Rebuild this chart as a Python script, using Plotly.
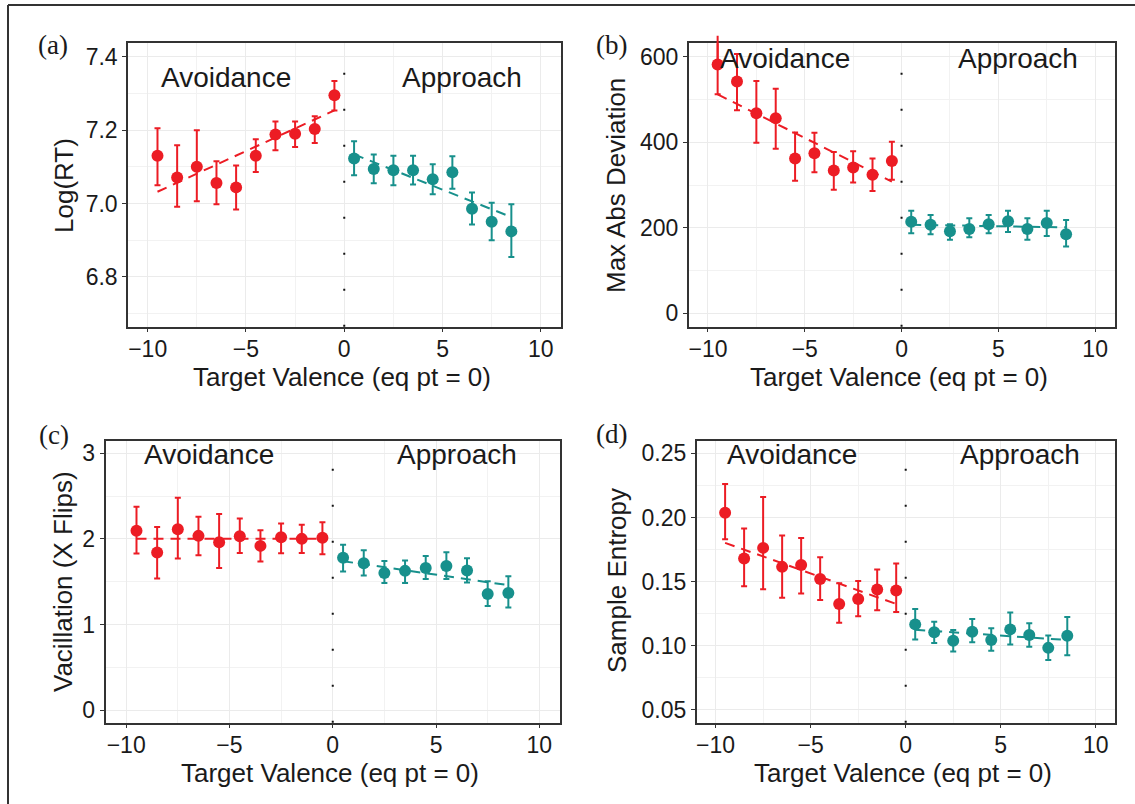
import plotly.graph_objects as go

# ---------------- data ----------------
x_avoid = [-9.5, -8.5, -7.5, -6.5, -5.5, -4.5, -3.5, -2.5, -1.5, -0.5]
x_appr = [0.5, 1.5, 2.5, 3.5, 4.5, 5.5, 6.5, 7.5, 8.5]
fit_x_avoid = [-9.5, -0.5]
fit_x_appr = [0.5, 8.5]

# (a) Log(RT)
a_avoid_mean = [7.130, 7.071, 7.100, 7.056, 7.044, 7.130, 7.188, 7.190, 7.203, 7.295]
a_avoid_lo = [7.050, 6.991, 7.006, 6.998, 6.984, 7.086, 7.145, 7.154, 7.165, 7.254]
a_avoid_hi = [7.205, 7.159, 7.200, 7.115, 7.104, 7.175, 7.224, 7.224, 7.238, 7.334]
a_appr_mean = [7.123, 7.094, 7.091, 7.091, 7.066, 7.085, 6.986, 6.950, 6.924]
a_appr_lo = [7.077, 7.055, 7.050, 7.052, 7.025, 7.040, 6.943, 6.900, 6.854]
a_appr_hi = [7.170, 7.134, 7.130, 7.130, 7.107, 7.129, 7.030, 7.002, 6.998]
a_fit_avoid = [7.032, 7.254]
a_fit_appr = [7.134, 6.963]

# (b) Max Abs Deviation
b_avoid_mean = [582, 542, 468, 456, 362, 374, 334, 341, 324, 356]
b_avoid_lo = [512, 475, 399, 385, 310, 330, 289, 306, 286, 312]
b_avoid_hi = [649, 606, 543, 525, 423, 422, 377, 379, 362, 401]
b_appr_mean = [214, 207, 192, 197, 208, 215, 197, 211, 185]
b_appr_lo = [187, 185, 172, 178, 187, 190, 172, 181, 156]
b_appr_hi = [240, 230, 208, 222, 230, 240, 222, 240, 218]
b_fit_avoid = [512, 308]
b_fit_appr = [207, 201]

# (c) Vacillation (X Flips)
c_avoid_mean = [2.094, 1.840, 2.113, 2.035, 1.960, 2.030, 1.918, 2.020, 2.000, 2.012]
c_avoid_lo = [1.829, 1.537, 1.770, 1.810, 1.660, 1.836, 1.735, 1.832, 1.836, 1.820]
c_avoid_hi = [2.374, 2.140, 2.480, 2.257, 2.290, 2.238, 2.100, 2.180, 2.164, 2.195]
c_appr_mean = [1.778, 1.716, 1.602, 1.626, 1.660, 1.684, 1.630, 1.357, 1.368]
c_appr_lo = [1.619, 1.571, 1.485, 1.485, 1.532, 1.532, 1.490, 1.216, 1.197]
c_appr_hi = [1.930, 1.868, 1.740, 1.747, 1.800, 1.844, 1.774, 1.505, 1.564]
c_fit_avoid = [2.0, 2.0]
c_fit_appr = [1.739, 1.459]

# (d) Sample Entropy
d_avoid_mean = [0.2036, 0.1680, 0.1763, 0.1615, 0.1629, 0.1520, 0.1325, 0.1364, 0.1439, 0.1431]
d_avoid_lo = [0.1830, 0.1464, 0.1440, 0.1375, 0.1408, 0.1356, 0.1180, 0.1231, 0.1278, 0.1263]
d_avoid_hi = [0.2260, 0.1914, 0.2160, 0.1860, 0.1840, 0.1690, 0.1487, 0.1504, 0.1595, 0.1642]
d_appr_mean = [0.1167, 0.1105, 0.1040, 0.1110, 0.1046, 0.1128, 0.1084, 0.0984, 0.1079]
d_appr_lo = [0.1049, 0.1022, 0.0956, 0.1027, 0.0961, 0.1010, 0.0992, 0.0890, 0.0927]
d_appr_hi = [0.1286, 0.1188, 0.1123, 0.1208, 0.1137, 0.1260, 0.1175, 0.1081, 0.1224]
d_fit_avoid = [0.1802, 0.1326]
d_fit_appr = [0.1125, 0.1045]

x_ticks = [-10, -5, 0, 5, 10]
x_title = "Target Valence (eq pt = 0)"
panel_labels = ["(a)", "(b)", "(c)", "(d)"]
y_titles = ["Log(RT)", "Max Abs Deviation", "Vacillation (X Flips)", "Sample Entropy"]
y_ticks = [[6.8, 7.0, 7.2, 7.4], [0, 200, 400, 600], [0, 1, 2, 3], [0.05, 0.10, 0.15, 0.20, 0.25]]
y_ticktext = [["6.8", "7.0", "7.2", "7.4"], ["0", "200", "400", "600"], ["0", "1", "2", "3"],
              ["0.05", "0.10", "0.15", "0.20", "0.25"]]
y_minor = [0.1, 100, 0.5, 0.025]
y_ranges = [[6.664, 7.437], [-31.3, 631.3], [-0.148, 3.147], [0.0401, 0.2598]]
label_y = [7.345, 596, 2.98, 0.2487]
group_labels = ["Avoidance", "Approach"]
group_label_x = [-6, 6]

# ---------------- layout geometry (pixels) ----------------
W, H = 1135, 804
def px(x):
    return x / W
def py(y):
    return 1 - y / H

panels = [
    dict(x0=128.0, x1=560.5, y0=43.3, y1=326.7),
    dict(x0=688.6, x1=1114.5, y0=43.3, y1=326.7),
    dict(x0=105.5, x1=560.0, y0=440.7, y1=722.7),
    dict(x0=696.6, x1=1114.8, y0=440.7, y1=722.7),
]
panel_label_pos = [(53, 45), (611, 45), (54, 435), (611, 434)]
ytitle_pos = [(64, 186), (616, 186), (63, 582), (617, 581)]
xtitle_pos = [(342, 377), (899, 377), (330, 773), (903, 773)]

RED = "#EC1C24"
TEAL = "#17908C"
SANS = "Liberation Sans, Arial, Helvetica, sans-serif"
SERIF = "Liberation Serif, Times New Roman, serif"

series = [
    (a_avoid_mean, a_avoid_lo, a_avoid_hi, a_appr_mean, a_appr_lo, a_appr_hi, a_fit_avoid, a_fit_appr),
    (b_avoid_mean, b_avoid_lo, b_avoid_hi, b_appr_mean, b_appr_lo, b_appr_hi, b_fit_avoid, b_fit_appr),
    (c_avoid_mean, c_avoid_lo, c_avoid_hi, c_appr_mean, c_appr_lo, c_appr_hi, c_fit_avoid, c_fit_appr),
    (d_avoid_mean, d_avoid_lo, d_avoid_hi, d_appr_mean, d_appr_lo, d_appr_hi, d_fit_avoid, d_fit_appr),
]

fig = go.Figure()
layout = dict(
    width=W, height=H, autosize=False,
    margin=dict(l=0, r=0, t=0, b=0),
    paper_bgcolor="white", plot_bgcolor="white",
    showlegend=False,
    font=dict(family=SANS, color="#1a1a1a"),
)
annotations = []
shapes = []

for i, (p, s) in enumerate(zip(panels, series)):
    n = "" if i == 0 else str(i + 1)
    xa, ya = "x" + n, "y" + n
    am, alo, ahi, pm, plo, phi, fa, fp = s

    for xs, ys, col in [(fit_x_avoid, fa, RED), (fit_x_appr, fp, TEAL)]:
        fig.add_trace(go.Scatter(
            x=xs, y=ys, mode="lines", xaxis=xa, yaxis=ya,
            line=dict(color=col, width=2, dash="10px,7px"), hoverinfo="skip"))
    for xs, m, lo, hi, col in [(x_avoid, am, alo, ahi, RED), (x_appr, pm, plo, phi, TEAL)]:
        fig.add_trace(go.Scatter(
            x=xs, y=m, mode="markers", xaxis=xa, yaxis=ya, cliponaxis=False,
            marker=dict(size=12, color=col),
            error_y=dict(type="data", symmetric=False,
                         array=[h - v for h, v in zip(hi, m)],
                         arrayminus=[v - l for v, l in zip(m, lo)],
                         color=col, thickness=2, width=3),
            hoverinfo="skip"))
        # whiskers that run past the top of the panel (error bars are clipped by plotly)
        for xv, mv, hv in zip(xs, m, hi):
            if hv > y_ranges[i][1]:
                annotations.append(dict(x=xv, y=hv, xref=xa, yref=ya, ax=xv, ay=mv,
                                        axref=xa, ayref=ya, text="", showarrow=True,
                                        arrowhead=0, arrowwidth=2, arrowcolor=col,
                                        standoff=0, startstandoff=0))
                for dx in (-4, 4):
                    annotations.append(dict(x=xv, y=hv, xref=xa, yref=ya, ax=dx, ay=0,
                                            text="", showarrow=True, arrowhead=0,
                                            arrowwidth=2, arrowcolor=col,
                                            standoff=0, startstandoff=0))

    axis_common = dict(
        showline=True, linecolor="#333333", linewidth=1.5, mirror=True,
        ticks="outside", ticklen=4, tickwidth=1.2, tickcolor="#333333",
        showgrid=True, gridcolor="#EBEBEB", gridwidth=1.4,
        zeroline=False, tickfont=dict(size=23, color="#1a1a1a", family=SANS),
    )
    layout["xaxis" + n] = dict(
        axis_common, domain=[px(p["x0"]), px(p["x1"])], anchor=ya,
        range=[-11, 11], tickmode="array", tickvals=x_ticks, ticklabelstandoff=-3,
        minor=dict(showgrid=True, gridcolor="#F2F2F2", gridwidth=0.8, dtick=2.5, tick0=0, ticks=""),
    )
    layout["yaxis" + n] = dict(
        axis_common, domain=[py(p["y1"]), py(p["y0"])], anchor=xa,
        range=y_ranges[i], tickmode="array", tickvals=y_ticks[i], ticktext=y_ticktext[i],
        minor=dict(showgrid=True, gridcolor="#F2F2F2", gridwidth=0.8, dtick=y_minor[i],
                   tick0=y_ticks[i][0], ticks=""),
    )

    # dotted line at the equilibrium point
    shapes.append(dict(type="line", xref=xa, yref=ya + " domain", x0=0, x1=0, y0=0, y1=1,
                       line=dict(color="#111111", width=2, dash="2px,34px"), layer="above"))

    for gx, gt in zip(group_label_x, group_labels):
        annotations.append(dict(x=gx, y=label_y[i], xref=xa, yref=ya, text=gt, showarrow=False,
                                xanchor="center", yanchor="middle",
                                font=dict(size=28, color="#1a1a1a", family=SANS)))

    lx, ly = panel_label_pos[i]
    annotations.append(dict(x=px(lx), y=py(ly), xref="paper", yref="paper", text=panel_labels[i],
                            showarrow=False, xanchor="center", yanchor="middle",
                            font=dict(size=27, color="#1a1a1a", family=SERIF)))
    tx, ty = ytitle_pos[i]
    annotations.append(dict(x=px(tx), y=py(ty), xref="paper", yref="paper", text=y_titles[i],
                            showarrow=False, xanchor="center", yanchor="middle", textangle=-90,
                            font=dict(size=26, color="#1a1a1a", family=SANS)))
    tx, ty = xtitle_pos[i]
    annotations.append(dict(x=px(tx), y=py(ty), xref="paper", yref="paper", text=x_title,
                            showarrow=False, xanchor="center", yanchor="middle",
                            font=dict(size=26, color="#1a1a1a", family=SANS)))

# outer frame (top and left edges visible)
shapes.append(dict(type="line", xref="paper", yref="paper", x0=px(8), x1=1.02, y0=py(5), y1=py(5),
                   line=dict(color="#333333", width=2)))
shapes.append(dict(type="line", xref="paper", yref="paper", x0=px(8), x1=px(8), y0=py(5), y1=-0.02,
                   line=dict(color="#333333", width=2)))

layout["annotations"] = annotations
layout["shapes"] = shapes
fig.update_layout(**layout)
fig.write_html("out.html")
